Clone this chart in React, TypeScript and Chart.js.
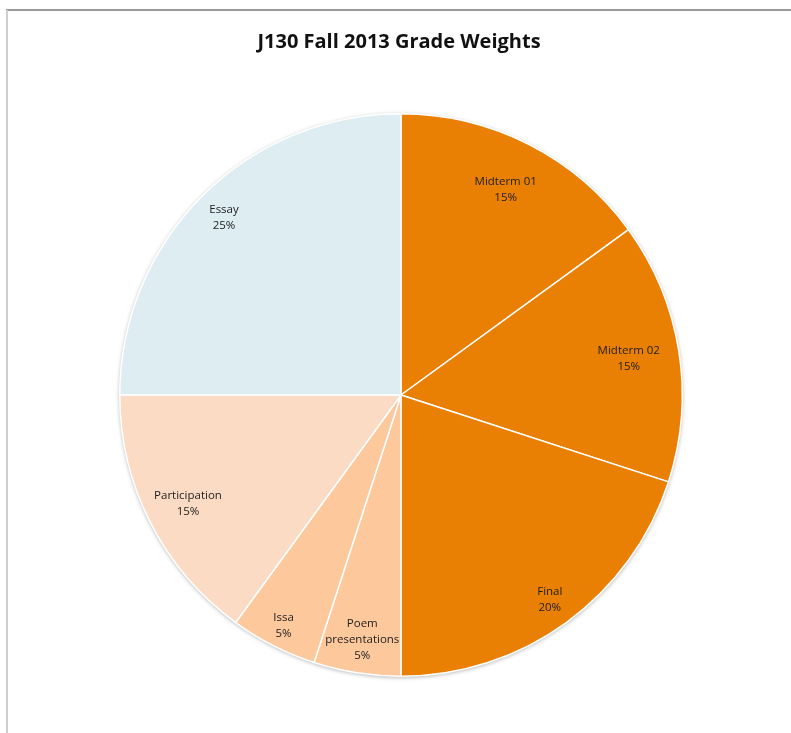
import React, { useEffect, useRef } from "react";
import { Chart, registerables } from "chart.js";

Chart.register(...registerables);

const categories = ["Midterm 01", "Midterm 02", "Final", "Poem presentations", "Issa", "Participation", "Essay"];
const labelLines = [["Midterm 01"], ["Midterm 02"], ["Final"], ["Poem", "presentations"], ["Issa"], ["Participation"], ["Essay"]];
const weights = [15, 15, 20, 5, 5, 15, 25];
const colors = ["#E97F03", "#E97F03", "#E97F03", "#FCC89C", "#FCC89C", "#FBDBC3", "#DDEDF2"];
const labelRadius = [0.82, 0.82, 0.9, 0.88, 0.92, 0.85, 0.89];
const title = "J130 Fall 2013 Grade Weights";

const decorPlugin = {
  id: "decor",
  beforeDatasetsDraw(chart: any) {
    const ctx = chart.ctx;
    const meta = chart.getDatasetMeta(0);
    const arc = meta.data[0];
    if (!arc) return;
    const { x, y, outerRadius } = arc.getProps(["x", "y", "outerRadius"], true);
    ctx.save();
    ctx.beginPath();
    ctx.arc(x, y, outerRadius, 0, Math.PI * 2);
    ctx.shadowColor = "rgba(0,0,0,0.35)";
    ctx.shadowBlur = 4;
    ctx.shadowOffsetY = 1;
    ctx.fillStyle = "#ffffff";
    ctx.fill();
    ctx.restore();
  },
  afterDraw(chart: any) {
    const ctx = chart.ctx;
    ctx.save();
    // frame
    ctx.fillStyle = "#9a9a9a";
    ctx.fillRect(6, 9, chart.width - 6, 2);
    ctx.fillStyle = "#cfcfcf";
    ctx.fillRect(6, 10, 2, chart.height - 10);
    // title
    ctx.fillStyle = "#111111";
    ctx.font = "bold 20px 'Open Sans', sans-serif";
    ctx.textAlign = "center";
    ctx.textBaseline = "middle";
    ctx.fillText(title, 399, 42);
    // labels
    const meta = chart.getDatasetMeta(0);
    ctx.font = "11.5px 'Open Sans', sans-serif";
    ctx.fillStyle = "#222222";
    meta.data.forEach((el: any, i: number) => {
      const { x, y, startAngle, endAngle, outerRadius } = el.getProps(
        ["x", "y", "startAngle", "endAngle", "outerRadius"],
        true
      );
      const mid = (startAngle + endAngle) / 2;
      const r = outerRadius * labelRadius[i];
      const lx = x + Math.cos(mid) * r;
      const ly = y + Math.sin(mid) * r;
      const lines = [...labelLines[i], weights[i] + "%"];
      const lh = 16;
      const y0 = ly - ((lines.length - 1) * lh) / 2;
      lines.forEach((t, k) => ctx.fillText(t, lx, y0 + k * lh));
    });
    ctx.restore();
  },
};

export default function App() {
  const ref = useRef<HTMLCanvasElement | null>(null);
  useEffect(() => {
    document.body.style.margin = "0";
    const chart = new Chart(ref.current as HTMLCanvasElement, {
      type: "pie",
      data: {
        labels: categories,
        datasets: [
          {
            data: weights,
            backgroundColor: colors,
            borderColor: "#ffffff",
            borderWidth: 1.5,
          },
        ],
      },
      options: {
        animation: false,
        responsive: false,
        events: [],
        layout: { padding: { top: 113, bottom: 56, left: 119, right: 108 } },
        plugins: {
          legend: { display: false },
          title: { display: false },
          tooltip: { enabled: false },
        },
      },
      plugins: [decorPlugin],
    });
    return () => chart.destroy();
  }, []);
  return (
    <div style={{ width: 791, height: 733, background: "#fff" }}>
      <canvas ref={ref} width={791} height={733} style={{ display: "block" }} />
    </div>
  );
}
